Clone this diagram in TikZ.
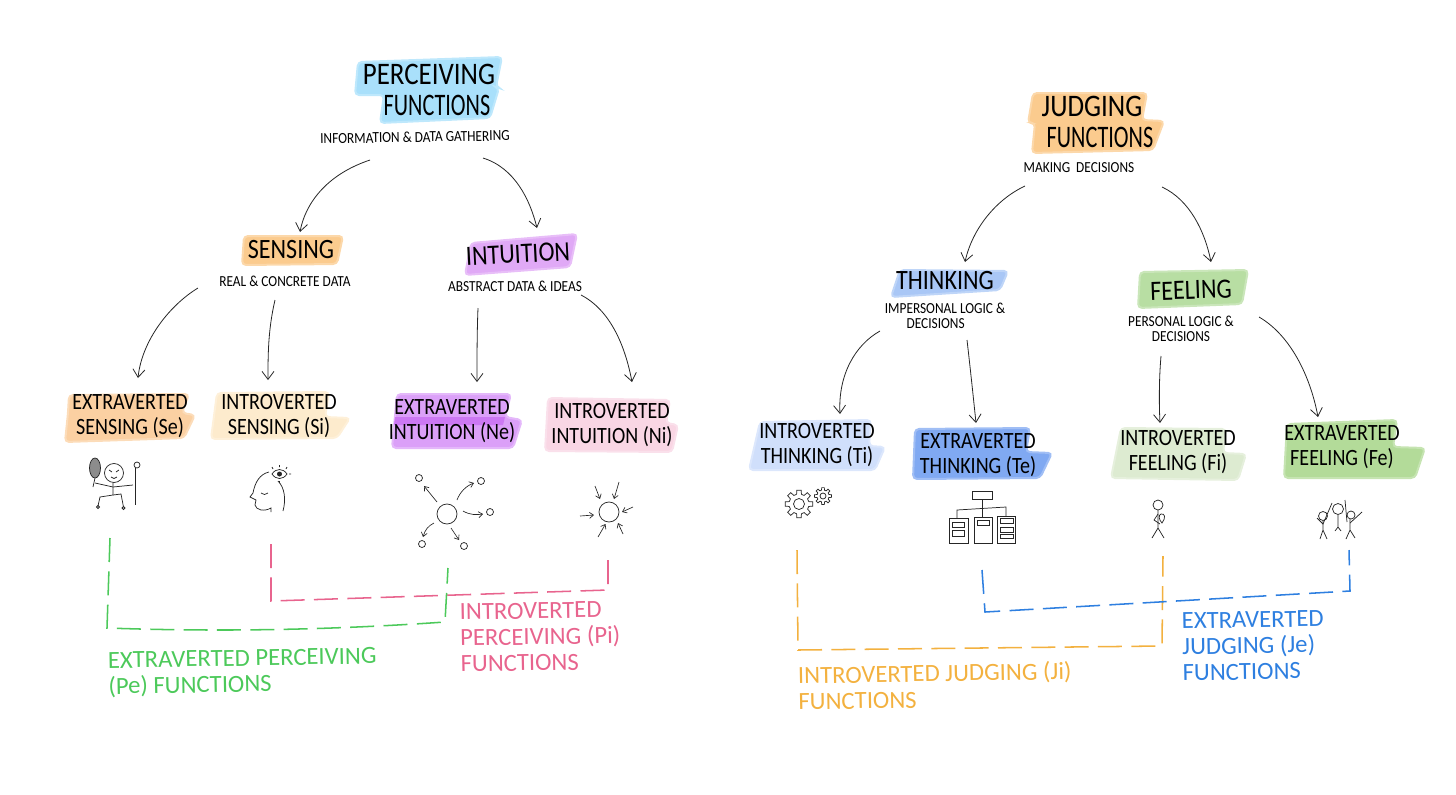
\documentclass[tikz,border=0pt]{standalone}
\usepackage{fontspec}
\usepackage{tikz}
\usetikzlibrary{arrows.meta}
\usetikzlibrary{calc}
\newfontfamily\handA[FakeStretch=0.86]{Carlito}
\newfontfamily\handN[FakeStretch=0.71]{Carlito}
\newfontfamily\handB[FakeStretch=0.86]{Carlito}
\newfontfamily\handC[FakeStretch=0.87]{Carlito}
\newfontfamily\handD[FakeStretch=1.0]{Carlito}
\definecolor{hlSky}{HTML}{A9E0FB}
\definecolor{hlOrange}{HTML}{FBCB8E}
\definecolor{hlPeach}{HTML}{FBD0A2}
\definecolor{hlCream}{HTML}{FDEBCD}
\definecolor{hlLilac}{HTML}{E0A9F6}
\definecolor{hlPurple}{HTML}{DBA0F8}
\definecolor{hlPurpleDk}{HTML}{CC78F3}
\definecolor{hlPink}{HTML}{F9D6E4}
\definecolor{hlBlue}{HTML}{A9C7F6}
\definecolor{hlPale}{HTML}{D0DFFB}
\definecolor{hlStrong}{HTML}{80A9F2}
\definecolor{hlGreen}{HTML}{B8DEA3}
\definecolor{hlMoss}{HTML}{DDEBD1}
\definecolor{hlLeaf}{HTML}{B3DB99}
\definecolor{peGreen}{HTML}{4CC95A}
\definecolor{piPink}{HTML}{E8648E}
\definecolor{jiOrange}{HTML}{F3B13F}
\definecolor{jeBlue}{HTML}{2E7FE0}
\tikzset{
  hl/.style={fill=#1,draw=#1!75!white,line width=1.5pt,rounded corners=3pt},
  titletext/.style={font=\handA\fontsize{23.5}{23}\selectfont,align=center,inner sep=0.75pt},
  headtext/.style={font=\handB\fontsize{21}{21}\selectfont,align=center,inner sep=0.75pt},
  boxtext/.style={font=\handB\fontsize{17.5}{19}\selectfont,align=center,inner sep=0.75pt},
  subtext/.style={font=\handC\fontsize{11.5}{11}\selectfont,align=center,inner sep=0.75pt},
  grouptext/.style={font=\handD\fontsize{18.5}{19.5}\selectfont,align=left,inner sep=0.75pt,text=#1},
  flow/.style={draw=black!85,line width=0.6pt,-{Straight Barb[length=6pt,width=9pt]}},
  groupline/.style={draw=#1,line width=1.15pt,dash pattern=on 18pt off 7pt},
  sketch/.style={draw=black!85,line width=0.55pt},
  tiny/.style={draw=black!85,line width=0.5pt,-{Straight Barb[length=3pt,width=4.5pt]}}
}
\begin{document}
\begin{tikzpicture}[x=0.75pt,y=0.75pt,yscale=-1,xscale=1]
\useasboundingbox (0,0) rectangle (1456,794);
%Shape: Highlights left tree
\path[hl=hlSky] (358,62) -- (502,57) -- (496,87) -- (499,88) -- (490,118) -- (380,123) -- (384,95) -- (355,95) -- cycle;
\path[hl=hlOrange] (244,236) -- (343,236) -- (337,264) -- (242,265) -- cycle;
\path[hl=hlLilac] (471,243) -- (577,234) -- (570,267) -- (465,275) -- cycle;
\path[hl=hlPeach] (69,395) -- (189,394) -- (182,413) -- (195,415) -- (184,438) -- (65,442) -- (68,413) -- cycle;
\path[hl=hlCream] (217,393) -- (329,392) -- (325,417) -- (350,418) -- (337,438) -- (211,439) -- cycle;
\path[hl=hlPurple] (397,394) -- (511,394) -- (505,417) -- (522,420) -- (513,448) -- (392,448) -- cycle;
\fill[hlPurpleDk] (395,417) -- (505,417) -- (503,425) -- (394,425) -- cycle;
\path[hl=hlPink] (548,398) -- (670,400) -- (666,423) -- (678,425) -- (672,452) -- (545,451) -- cycle;
%Shape: Highlights right tree
\path[hl=hlOrange] (1033,93) -- (1147,93) -- (1142,120) -- (1164,121) -- (1153,150) -- (1032,153) -- (1035,123) -- (1028,123) -- cycle;
\path[hl=hlBlue] (900,270) -- (1008,271) -- (1000,290) -- (891,297) -- cycle;
\path[hl=hlGreen] (1140,272) -- (1248,270) -- (1242,304) -- (1138,308) -- cycle;
\path[hl=hlPale] (760,422) -- (871,420) -- (869,446) -- (885,447) -- (875,470) -- (749,470) -- cycle;
\path[hl=hlStrong] (915,429) -- (1030,428) -- (1026,452) -- (1052,453) -- (1040,478) -- (913,479) -- cycle;
\path[hl=hlMoss] (1121,428) -- (1226,429) -- (1223,453) -- (1246,454) -- (1238,480) -- (1111,478) -- cycle;
\path[hl=hlLeaf] (1287,424) -- (1397,420) -- (1393,447) -- (1425,448) -- (1415,478) -- (1284,478) -- cycle;

% Text Node left tree
\node[titletext] (percTitle) at (429,90) {PERCEIVING\\\hspace*{12pt}{\handN FUNCTIONS}};
\node[subtext,rotate=1] (percSub) at (415,137) {INFORMATION \& DATA GATHERING};
\node[headtext] (sensing) at (291,250) {SENSING};
\node[subtext] (sensSub) at (285,281) {REAL \& CONCRETE DATA};
\node[headtext,rotate=3] (intuition) at (518,254) {INTUITION};
\node[subtext] (intSub) at (515,286) {ABSTRACT DATA \& IDEAS};
\node[boxtext] (seBox) at (130,416) {EXTRAVERTED\\SENSING (Se)};
\node[boxtext] (siBox) at (279,416) {INTROVERTED\\SENSING (Si)};
\node[boxtext] (neBox) at (452,421) {EXTRAVERTED\\INTUITION (Ne)};
\node[boxtext] (niBox) at (612,425) {INTROVERTED\\INTUITION (Ni)};
% Text Node right tree
\node[titletext] (judgTitle) at (1092,122) {JUDGING\\\hspace*{12pt}{\handN FUNCTIONS}};
\node[subtext] (judgSub) at (1079,168) {MAKING\ \ DECISIONS};
\node[headtext] (thinking) at (945,281) {THINKING};
\node[subtext] (thinkSub) at (945,316) {IMPERSONAL LOGIC \&\\DECISIONS\hspace*{14pt}};
\node[headtext,rotate=2] (feeling) at (1191,290) {FEELING};
\node[subtext] (feelSub) at (1181,329) {PERSONAL LOGIC \&\\DECISIONS};
\node[boxtext] (tiBox) at (817,445) {INTROVERTED\\THINKING (Ti)};
\node[boxtext] (teBox) at (978,455) {EXTRAVERTED\\THINKING (Te)};
\node[boxtext] (fiBox) at (1178,452) {INTROVERTED\\FEELING (Fi)};
\node[boxtext] (feBox) at (1342,447) {EXTRAVERTED\\FEELING (Fe)};
% Text Node groups
\node[grouptext=peGreen,anchor=west,rotate=1] (peText) at (107,675) {EXTRAVERTED PERCEIVING\\(Pe) FUNCTIONS};
\node[grouptext=piPink,anchor=west,rotate=1] (piText) at (459,638) {INTROVERTED\\PERCEIVING (Pi)\\FUNCTIONS};
\node[grouptext=jiOrange,anchor=west,rotate=1] (jiText) at (797,688) {INTROVERTED JUDGING (Ji)\\FUNCTIONS};
\node[grouptext=jeBlue,anchor=west,rotate=1] (jeText) at (1181,647) {EXTRAVERTED\\JUDGING (Je)\\FUNCTIONS};

%Curves left tree
\draw[flow] ($(percSub)+(-45,23)$) .. controls ($(percSub)+(-90,38)$) and ($(percSub)+(-110,68)$) .. ($(sensing)+(9,-18)$);
\draw[flow] ($(percSub)+(68,21)$) .. controls ($(percSub)+(100,31)$) and ($(percSub)+(115,63)$) .. ($(intuition)+(19,-26)$);
\draw[flow] ($(sensSub)+(-87,7)$) .. controls ($(sensSub)+(-115,24)$) and ($(sensSub)+(-143,59)$) .. ($(seBox)+(8,-38)$);
\draw[flow] ($(sensSub)+(-10,19)$) .. controls ($(sensSub)+(-17,49)$) and ($(sensSub)+(-17,74)$) .. ($(siBox)+(-11,-36)$);
\draw[flow] ($(intSub)+(-37,22)$) .. controls ($(intSub)+(-38,46)$) and ($(intSub)+(-38,70)$) .. ($(neBox)+(25,-39)$);
\draw[flow] ($(intSub)+(66,9)$) .. controls ($(intSub)+(95,24)$) and ($(intSub)+(110,59)$) .. ($(niBox)+(20,-43)$);
%Curves right tree
\draw[flow] ($(judgSub)+(-54,18)$) .. controls ($(judgSub)+(-84,32)$) and ($(judgSub)+(-107,62)$) .. ($(thinking)+(20,-19)$);
\draw[flow] ($(judgSub)+(83,19)$) .. controls ($(judgSub)+(111,32)$) and ($(judgSub)+(126,64)$) .. ($(feeling)+(20,-28)$);
\draw[flow] ($(thinkSub)+(-65,15)$) .. controls ($(thinkSub)+(-90,29)$) and ($(thinkSub)+(-107,59)$) .. ($(tiBox)+(23,-31)$);
\draw[flow] ($(thinkSub)+(22,24)$) .. controls ($(thinkSub)+(25,50)$) and ($(thinkSub)+(28,78)$) .. ($(teBox)+(-2,-32)$);
\draw[flow] ($(feelSub)+(-20,27)$) .. controls ($(feelSub)+(-22,50)$) and ($(feelSub)+(-22,75)$) .. ($(fiBox)+(-18,-29)$);
\draw[flow] ($(feelSub)+(78,-12)$) .. controls ($(feelSub)+(109,6)$) and ($(feelSub)+(129,46)$) .. ($(feBox)+(-24,-30)$);

%Shape: Se figure
\draw[sketch] (114,473) circle (9.5);
\draw[sketch] (113,483) -- (113,495) -- (100,497) -- (98,506);
\draw[sketch] (113,495) -- (121,494) -- (123.5,507);
\draw[sketch] (95,483) -- (113,487) -- (133,485);
\draw[sketch] (109,470) -- (112,472) (119,470) -- (116,472) (111,477) .. controls (113,479) and (115,479) .. (117,477);
\draw[sketch,fill=black!45] (95,468) ellipse (5.5 and 10);
\draw[sketch] (95,478) -- (93,487);
\draw[sketch] (135,468) -- (135,505);
\draw[sketch] (137,465) circle (3);
\draw[sketch] (98,507) circle (1.5) (123.5,508) circle (1.5);
%Shape: Si figure
\draw[sketch] (269,472) .. controls (260,474) and (255,482) .. (253,493) -- (250,497) -- (256,500) -- (255,505) .. controls (256,510) and (264,512) .. (271,508) -- (271,512);
\draw[sketch] (278,481) .. controls (285,488) and (286,500) .. (283,511);
\draw[sketch] (261,493) .. controls (263,495) and (266,495) .. (268,493);
\draw[sketch] (272,474) .. controls (276,468) and (283,468) .. (287,474) .. controls (283,480) and (276,480) .. (272,474) -- cycle;
\fill[black!85] (279.5,474) circle (2.5);
\draw[sketch] (279.5,465) -- (279.5,467) (272,467) -- (273,469) (287,467) -- (286,469) (279.5,481) -- (279.5,483) (289,474) -- (291,474);
%Shape: Ne figure
\draw[sketch] (447,514) circle (10);
\draw[sketch] (419,478) circle (3.5) (481,481) circle (3.5) (490,512) circle (3.5) (422,544) circle (3.5) (464,546) circle (3.5);
\draw[tiny] (437,502) -- (424,486);
\draw[tiny] (457,500) .. controls (460,492) and (466,486) .. (474,483);
\draw[tiny] (463,511) .. controls (470,515) and (476,515) .. (483,514);
\draw[tiny] (434,523) .. controls (428,526) and (425,530) .. (423,537);
\draw[tiny] (451,528) -- (459,540);
%Shape: Ni figure
\draw[sketch] (609,512) circle (10);
\draw[tiny] (595,486) -- (600,499);
\draw[tiny] (619,482) -- (614,499);
\draw[tiny] (633,507) -- (622,512);
\draw[tiny] (580,516) -- (594,515);
\draw[tiny] (598,537) -- (605.5,524);
\draw[tiny] (623,534) -- (618,523);
%Shape: Ti gears
\draw[sketch] (799,504) circle (5.5);
\draw[sketch] (823,496) circle (3);
\foreach \a in {0,45,...,315}{
  \draw[sketch] ($(799,504)+(\a-14:10)$) -- ($(799,504)+(\a-9:14)$) -- ($(799,504)+(\a+9:14)$) -- ($(799,504)+(\a+14:10)$) -- ($(799,504)+(\a+31:10)$);
  \draw[sketch] ($(823,496)+(\a-14:6)$) -- ($(823,496)+(\a-9:8.5)$) -- ($(823,496)+(\a+9:8.5)$) -- ($(823,496)+(\a+14:6)$) -- ($(823,496)+(\a+31:6)$);
}
%Shape: Te chart
\draw[sketch] (972.5,491) rectangle (992,499);
\draw[sketch] (982,499) -- (982,517);
\draw[sketch] (957,518) -- (957,510) -- (1006,507) -- (1006,516);
\draw[sketch] (949,518) rectangle (968,543);
\draw[sketch] (974,517) rectangle (992,543);
\draw[sketch] (997,516) rectangle (1015,543);
\draw[sketch] (952,522) rectangle (964,527) (952,530) rectangle (964,536);
\draw[sketch] (977,520) rectangle (989,525);
\draw[sketch] (1000,518) rectangle (1013,523) (1000,527) rectangle (1013,532) (1000,534) rectangle (1013,538);
%Shape: Fi figure
\draw[sketch] (1158,505) circle (5);
\draw[sketch] (1158,510) -- (1158,528) -- (1152,538);
\draw[sketch] (1158,528) -- (1164,538);
\draw[sketch] (1158,514) -- (1154,520) -- (1160,524);
\draw[sketch] (1161,514) .. controls (1165,513) and (1166,518) .. (1162,523) .. controls (1159,520) and (1158,515) .. (1161,514) -- cycle;
%Shape: Fe figures
\draw[sketch] (1323,516) circle (4.5) (1338,509) circle (5.5) (1351,515) circle (4);
\draw[sketch] (1323,521) -- (1323,530) -- (1320,539) (1323,530) -- (1327,539);
\draw[sketch] (1338,515) -- (1338,527) -- (1335,531) (1338,527) -- (1341,531);
\draw[sketch] (1350,519) -- (1350,530) -- (1346,539) (1350,530) -- (1355,538);
\draw[sketch] (1317,518) -- (1323,524) -- (1332,503);
\draw[sketch] (1345,500) -- (1347,522);
\draw[sketch] (1350,523) -- (1362,512);

%Coordinates of the dashed brackets
\coordinate (peA) at (110,538);
\coordinate (peB) at (107,628);
\coordinate (peC) at (445,622);
\coordinate (peD) at (448,568);
\coordinate (piA) at (271,544);
\coordinate (piB) at (271,601);
\coordinate (piC) at (608,590);
\coordinate (piD) at (608,556);
\coordinate (jiA) at (797,550);
\coordinate (jiB) at (798,650);
\coordinate (jiC) at (1162,646);
\coordinate (jiD) at (1163,556);
\coordinate (jeA) at (982,570);
\coordinate (jeB) at (985,612);
\coordinate (jeC) at (1350,591);
\coordinate (jeD) at (1349,550);
%Straight Lines
\draw[groupline=piPink] (piA) -- (piB) -- (piC) -- (piD);
\draw[groupline=peGreen] (peA) -- (peB) .. controls (220,632) and (330,630) .. (peC) -- (peD);
\draw[groupline=jiOrange] (jiA) -- (jiB) -- (jiC) -- (jiD);
\draw[groupline=jeBlue] (jeA) -- (jeB) -- (jeC) -- (jeD);
\end{tikzpicture}
\end{document}
